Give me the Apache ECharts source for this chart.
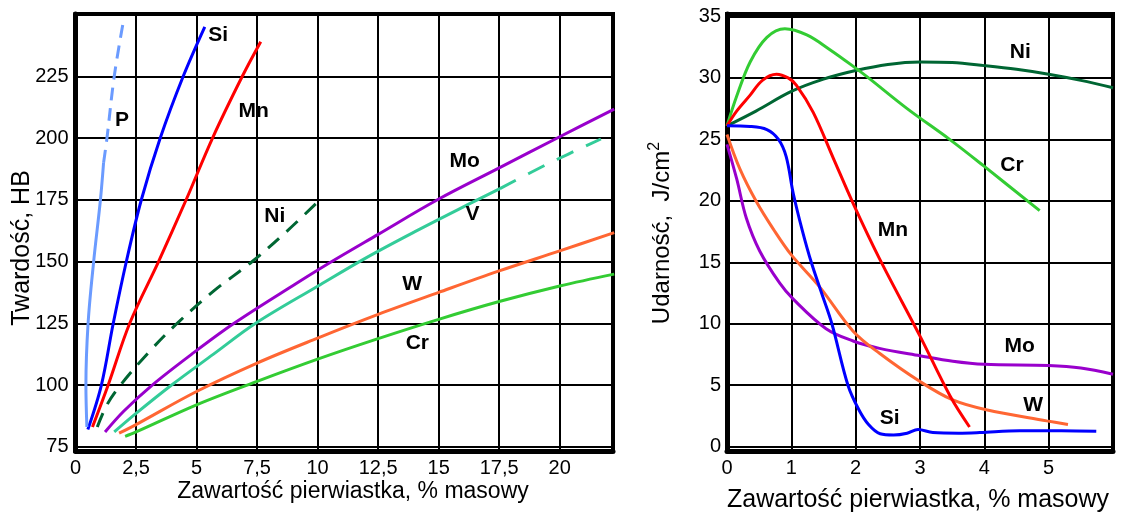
<!DOCTYPE html>
<html>
<head>
<meta charset="utf-8">
<script src="https://cdn.jsdelivr.net/npm/echarts@6/dist/echarts.min.js"></script>
<style>
  html, body { margin: 0; padding: 0; background: #fff; }
  #chart { width: 1143px; height: 515px; }
</style>
</head>
<body>
<div id="chart"></div>
<script>
// ---- Twardość (HB) w funkcji zawartości pierwiastka, % masowy ----
const hbP      = [[0.47,83],[0.43,100],[0.52,125],[0.75,150],[1.03,175],[1.16,190]];
const hbPDash  = [[1.16,190],[1.3,200],[1.6,225],[2.0,248.5]];
const hbSi     = [[0.51,82],[1.07,100],[1.56,125],[2.1,150],[2.72,175],[3.5,200],[4.45,225],[5.34,245]];
const hbMn     = [[0.7,83],[1.35,100],[2.24,125],[3.43,150],[4.57,175],[5.66,200],[6.89,225],[7.65,239]];
const hbNi     = [[0.9,83],[1.3,92],[1.86,100],[3.0,113],[4.2,125],[5.7,138],[7.3,150],[8.7,162],[10.2,176]];
const hbMo     = [[1.22,81],[2.0,89.5],[3.17,100],[4.8,112.5],[6.55,125],[9.1,141],[10.5,149.5],[12.5,161],[14.95,175],[17.5,187.9],[19.9,200],[22.25,211.7]];
const hbV      = [[1.6,81],[2.5,88.5],[3.97,100],[5.7,112.5],[7.44,125],[10.0,140],[12.0,151.5],[14.0,162],[16.2,173],[17.53,179.5]];
const hbVDash  = [[17.53,179.5],[19.5,189.5],[21.7,199.6]];
const hbW      = [[1.8,80.5],[2.5,84],[5,97.4],[7.5,108.9],[10,119],[12.5,128.6],[15,137.5],[17.5,146.2],[20,154.3],[22.25,161.7]];
const hbCr     = [[2.05,79.2],[2.5,81],[5,92],[7.5,101.5],[10,110.5],[12.5,118.8],[15,126.6],[17.5,133.8],[20,140.1],[22.25,144.9]];
const hbTicks  = [75, 100, 125, 150, 175, 200, 225];
const hbTags   = [['P',1.92,207.2],['Si',5.89,241.6],['Mn',7.36,210.8],['Ni',8.23,168.5],
                  ['Mo',16.07,190.8],['V',16.4,169.3],['W',13.9,140.8],['Cr',14.12,117]];

// ---- Udarność (J/cm2) w funkcji zawartości pierwiastka, % masowy ----
const kcNi = [[0,26.1],[0.45,27.3],[1,28.9],[1.5,29.9],[2,30.6],[2.5,31.1],[3,31.3],[3.5,31.25],[4,31.0],[4.5,30.7],[5,30.3],[5.5,29.8],[6,29.2]];
const kcCr = [[0,26.1],[0.15,28.5],[0.36,31.3],[0.62,33.3],[0.9,34.0],[1.24,33.5],[1.6,32.3],[2.0,30.8],[2.2,30.0],[2.8,27.5],[3.46,25.0],[4.0,22.8],[4.86,19.2]];
const kcMn = [[0,26.1],[0.15,27.3],[0.36,28.6],[0.55,29.8],[0.77,30.3],[0.95,30.0],[1.08,29.4],[1.34,27.2],[1.65,23.5],[1.96,19.8],[2.37,15.3],[3.0,9.0],[3.47,4.1],[3.77,1.6]];
const kcSi = [[0,26.1],[0.36,26.05],[0.62,25.8],[0.8,25.0],[0.92,23.6],[1.03,20.6],[1.17,17.6],[1.31,15.0],[1.47,12.5],[1.63,10.0],[1.88,5.0],[2.05,3.0],[2.2,1.8],[2.38,1.05],[2.59,0.95],[2.8,1.1],[2.97,1.4],[3.2,1.15],[3.6,1.1],[3.93,1.15],[4.55,1.3],[5.2,1.3],[5.74,1.25]];
const kcW  = [[0,25.4],[0.2,22.6],[0.46,19.9],[0.72,17.7],[1.0,15.6],[1.44,13.0],[1.96,9.4],[2.37,7.6],[3.0,5.3],[3.51,3.8],[4.03,3.0],[4.97,2.1],[5.3,1.8]];
const kcMo = [[0,24.6],[0.15,21.8],[0.3,18.6],[0.51,15.9],[0.82,13.3],[1.03,12.0],[1.54,9.6],[1.96,8.6],[2.37,8.0],[3.0,7.4],[3.51,6.95],[4.0,6.7],[5.0,6.6],[5.5,6.4],[6.0,5.9]];
const kcTicks = [0, 5, 10, 15, 20, 25, 30, 35];
const kcTags  = [['Ni',4.56,32.1],['Cr',4.43,22.9],['Mn',2.58,17.6],['Si',2.53,2.35],['Mo',4.55,8.2],['W',4.76,3.4]];

const xTitle = 'Zawartość pierwiastka, % masowy';

const C = {
  P: '#6b9bff', Si: '#0000ff', Mn: '#ff0000', Ni: '#006633',
  Mo: '#9900cc', V: '#33cc99', W: '#ff6633', Cr: '#33cc33'
};
const FONT = '"Liberation Sans", Arial, sans-serif';

function line(data, color, axisIdx, dash) {
  return {
    type: 'line', data, xAxisIndex: axisIdx, yAxisIndex: axisIdx,
    showSymbol: false, smooth: 0.35, silent: true, z: 3,
    lineStyle: { color, width: 3, type: dash || 'solid', cap: 'butt' }
  };
}
function tags(list, axisIdx) {
  return {
    type: 'scatter', xAxisIndex: axisIdx, yAxisIndex: axisIdx, symbolSize: 1, silent: true, z: 5,
    itemStyle: { opacity: 0 },
    data: list.map(t => ({ name: t[0], value: [t[1], t[2]] })),
    label: { show: true, position: 'inside', formatter: p => p.name, opacity: 1,
             color: '#000', textBorderWidth: 0, fontFamily: FONT, fontSize: 21, fontWeight: 'bold' }
  };
}
function xAxisCfg(gridIndex, max, interval) {
  return {
    type: 'value', gridIndex, min: 0, max, interval,
    axisLine: { show: true, onZero: false, lineStyle: { color: '#000', width: 5 } },
    axisTick: { show: false },
    axisLabel: { color: '#000', fontFamily: FONT, fontSize: 20, margin: 7,
                 formatter: v => String(v).replace('.', ','), showMaxLabel: false },
    splitLine: { show: true, lineStyle: { color: '#000', width: 2 } }
  };
}
function yAxisCfg(gridIndex, min, max, ticks, margin) {
  return {
    type: 'value', gridIndex, min, max,
    axisLine: { show: true, onZero: false, lineStyle: { color: '#000', width: 5 } },
    axisTick: { show: false, customValues: ticks },
    axisLabel: { color: '#000', fontFamily: FONT, fontSize: 20, margin, customValues: ticks },
    splitLine: { show: true, lineStyle: { color: '#000', width: 2 } }
  };
}

const chart = echarts.init(document.getElementById('chart'), null, { renderer: 'canvas' });
chart.setOption({
  animation: false,
  backgroundColor: '#fff',
  grid: [
    { left: 75.5, right: 530, top: 14, bottom: 64, show: true, borderColor: '#000', borderWidth: 4, backgroundColor: 'transparent' },
    { left: 727, right: 30, top: 14, bottom: 64, show: true, borderColor: '#000', borderWidth: 4, backgroundColor: 'transparent' }
  ],
  xAxis: [ xAxisCfg(0, 22.2, 2.5), xAxisCfg(1, 6, 1) ],
  yAxis: [ yAxisCfg(0, 73.3, 250.2, hbTicks, 7), yAxisCfg(1, -0.35, 35.2, kcTicks, 6) ],
  series: [
    line(hbCr, C.Cr, 0), line(hbW, C.W, 0),
    line(hbV, C.V, 0), line(hbVDash, C.V, 0, [18, 14]),
    line(hbMo, C.Mo, 0), line(hbNi, C.Ni, 0, [15, 10]),
    line(hbMn, C.Mn, 0), line(hbSi, C.Si, 0),
    line(hbP, C.P, 0), line(hbPDash, C.P, 0, [13, 8]),
    tags(hbTags, 0),
    line(kcNi, C.Ni, 1), line(kcCr, C.Cr, 1), line(kcMo, C.Mo, 1),
    line(kcW, C.W, 1), line(kcMn, C.Mn, 1), line(kcSi, C.Si, 1),
    tags(kcTags, 1)
  ],
  graphic: [
    { type: 'text', x: 22, y: 248, rotation: Math.PI / 2, silent: true,
      style: { text: 'Twardość, HB', fill: '#000', font: '25px ' + FONT, align: 'center', verticalAlign: 'middle' } },
    { type: 'text', x: 353, y: 492, silent: true,
      style: { text: xTitle, fill: '#000', font: '23px ' + FONT, align: 'center', verticalAlign: 'middle' } },
    { type: 'text', x: 662, y: 233, rotation: Math.PI / 2, silent: true,
      style: { text: 'Udarność,  J/cm{sup|2}', fill: '#000', fontFamily: FONT, fontSize: 24,
               align: 'center', verticalAlign: 'middle',
               rich: { sup: { fontFamily: FONT, fontSize: 16, fill: '#000', padding: [0, 0, 14, 0] } } } },
    { type: 'text', x: 918, y: 500, silent: true,
      style: { text: xTitle, fill: '#000', font: '25px ' + FONT, align: 'center', verticalAlign: 'middle' } }
  ]
});
</script>
</body>
</html>
